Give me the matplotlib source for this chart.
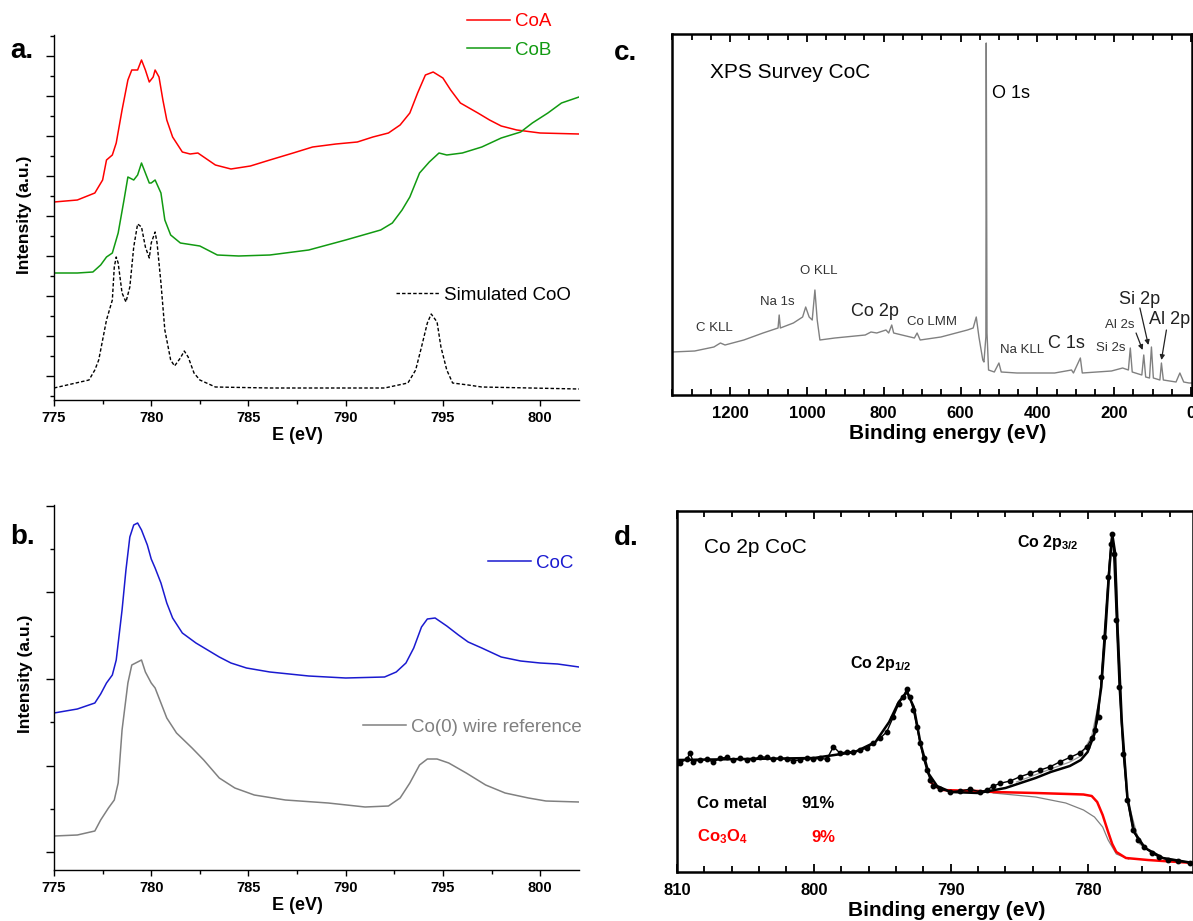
import numpy as np
import matplotlib
matplotlib.use('Agg')
import matplotlib.pyplot as plt
from matplotlib.ticker import FixedLocator, MultipleLocator, NullLocator

plt.rcParams['font.family'] = ['Liberation Sans', 'DejaVu Sans']
plt.rcParams['mathtext.fontset'] = 'custom'
plt.rcParams['mathtext.rm'] = 'Liberation Sans:bold'
plt.rcParams['mathtext.bf'] = 'Liberation Sans:bold'
plt.rcParams['mathtext.it'] = 'Liberation Sans:bold'
plt.rcParams['mathtext.default'] = 'bf'

# ---------------- Panel a data ----------------
coA_E = [775.0, 776.2, 777.1, 777.5, 777.7, 778.0, 778.2, 778.5, 778.8, 779.0, 779.3, 779.5, 779.7, 779.9,
         780.1, 780.2, 780.4, 780.6, 780.8, 781.1, 781.6, 782.0, 782.4, 782.7, 783.3, 784.1, 785.1, 786.1,
         787.3, 788.3, 789.5, 790.6, 791.4, 792.2, 792.8, 793.3, 793.7, 794.1, 794.5, 795.0, 795.4, 795.9,
         796.8, 797.4, 798.0, 798.8, 800.0, 802.0]
coA_I = [198, 200, 207, 220, 240, 245, 257, 290, 320, 330, 330, 340, 330, 318, 323, 330, 323, 300, 280, 263,
         248, 246, 247, 243, 235, 231, 234, 240, 247, 253, 256, 258, 263, 267, 275, 287, 307, 325, 328, 322,
         310, 297, 287, 280, 274, 270, 267, 266]

coB_E = [775.0, 776.2, 777.0, 777.4, 777.7, 778.0, 778.3, 778.6, 778.8, 779.1, 779.3, 779.5, 779.7, 779.9,
         780.0, 780.2, 780.5, 780.7, 781.0, 781.5, 782.5, 783.0, 783.4, 784.5, 786.1, 788.1, 790.0, 791.8,
         792.4, 792.9, 793.3, 793.8, 794.3, 794.8, 795.2, 796.0, 797.0, 798.0, 799.0, 799.6, 800.4, 801.1, 802.0]
coB_I = [127, 127, 128, 135, 143, 147, 167, 200, 223, 220, 225, 237, 227, 217, 217, 220, 207, 180, 165, 157,
         154, 149, 145, 144, 145, 150, 160, 170, 177, 190, 203, 227, 238, 247, 245, 247, 253, 262, 268, 277,
         287, 297, 303]

sim_E = [775.0, 776.8, 777.1, 777.3, 777.5, 777.7, 778.0, 778.1, 778.2, 778.3, 778.5, 778.7, 778.9, 779.1,
         779.3, 779.5, 779.7, 779.9, 780.0, 780.2, 780.3, 780.5, 780.7, 781.0, 781.2, 781.5, 781.7, 781.9,
         782.2, 782.5, 783.3, 786.1, 792.0, 793.2, 793.6, 793.9, 794.2, 794.4, 794.7, 794.9, 795.2, 795.5,
         796.3, 797.0, 802.0]
sim_I = [12, 20, 30, 40, 60, 80, 100, 133, 143, 137, 107, 98, 113, 153, 176, 173, 153, 142, 157, 168, 157,
         117, 70, 40, 34, 42, 49, 43, 27, 20, 13, 12, 12, 17, 30, 53, 77, 86, 78, 53, 30, 17, 15, 13, 11]

# ---------------- Panel b data ----------------
coC_E = [775.0, 776.2, 777.1, 777.4, 777.7, 778.0, 778.2, 778.5, 778.7, 778.9, 779.1, 779.3, 779.5, 779.8,
         780.0, 780.2, 780.5, 780.8, 781.1, 781.6, 782.3, 782.9, 783.5, 784.1, 784.9, 786.1, 788.1, 790.0,
         792.0, 792.6, 793.1, 793.5, 793.9, 794.2, 794.6, 795.2, 795.8, 796.3, 797.0, 798.0, 799.0, 800.0,
         800.9, 802.0]
coC_I = [157, 161, 167, 176, 187, 195, 210, 260, 300, 333, 345, 347, 340, 325, 311, 302, 287, 267, 252, 237,
         227, 220, 213, 207, 202, 198, 194, 192, 193, 198, 207, 222, 243, 251, 252, 244, 235, 228, 222, 213,
         209, 207, 206, 203]

co0_E = [775.0, 776.2, 777.1, 777.4, 777.8, 778.1, 778.3, 778.5, 778.8, 779.0, 779.3, 779.5, 779.7, 780.0,
         780.2, 780.5, 780.8, 781.3, 782.1, 782.7, 783.5, 784.3, 785.3, 786.9, 789.1, 791.0, 792.2, 792.8,
         793.3, 793.8, 794.2, 794.7, 795.3, 796.2, 797.2, 798.2, 799.4, 800.3, 802.0]
co0_I = [34, 35, 39, 50, 62, 70, 87, 140, 187, 205, 208, 210, 198, 187, 182, 167, 152, 137, 122, 110, 92, 82,
         75, 70, 67, 63, 64, 72, 87, 105, 111, 111, 107, 97, 85, 77, 72, 69, 68]

# ---------------- Panel c data (survey) ----------------
sv_E = [1351, 1292, 1242, 1225, 1213, 1164, 1114, 1075, 1072, 1069, 1035, 1011, 1003, 994, 986, 979, 973,
        966, 927, 848, 833, 818, 794, 787, 779, 774, 720, 713, 705, 651, 582, 567, 559, 552, 542, 539, 534,
        533, 531, 527, 512, 500, 494, 453, 355, 311, 306, 288, 283, 207, 178, 163, 158, 153, 128, 123, 118,
        108, 103, 98, 81, 77, 72, 39, 29, 19, 5, -3]
sv_I = [43, 44, 48, 52, 50, 55, 62, 67, 80, 67, 72, 78, 88, 78, 75, 105, 75, 55, 57, 60, 63, 62, 65, 62, 70,
        62, 57, 62, 55, 58, 65, 67, 78, 58, 35, 33, 58, 352, 62, 25, 23, 32, 23, 22, 22, 25, 22, 37, 22, 24,
        27, 25, 47, 23, 20, 40, 18, 17, 48, 17, 15, 32, 15, 13, 22, 13, 12, 12]

# ---------------- Panel d data (Co 2p) ----------------
d_E = [810.0, 809.78, 809.29, 809.05, 808.81, 808.32, 807.83, 807.35, 806.86, 806.37, 805.88, 805.39, 804.91,
       804.42, 803.93, 803.44, 802.96, 802.47, 801.98, 801.50, 801.01, 800.52, 800.04, 799.55, 799.06, 798.57,
       798.08, 797.60, 797.11, 796.62, 796.13, 795.65, 795.16, 794.67, 794.2, 793.8, 793.5, 793.2, 793.0,
       792.73, 792.48, 792.24, 791.99, 791.75, 791.50, 791.26, 790.77, 790.04, 789.31, 788.58, 787.85, 787.36,
       786.88, 786.39, 785.66, 784.93, 784.20, 783.46, 782.73, 782.00, 781.27, 780.54, 780.05, 779.69, 779.44,
       779.20, 779.0, 778.8, 778.5, 778.3, 778.2, 778.1, 777.9, 777.7, 777.4, 777.1, 776.7, 776.3, 775.9,
       775.3, 774.8, 774.1, 773.4, 772.5]
d_I = [109, 109.3, 112.7, 118.7, 110.3, 112, 112.7, 110, 113.7, 114.7, 112, 113.7, 112, 112.7, 115.3, 114.7,
       112.7, 113.7, 112.7, 111.3, 112, 113.7, 112.7, 113.7, 112.7, 125.3, 118.7, 120.3, 120.3, 122, 123.7,
       128.7, 133.7, 140.3, 155, 168, 175, 183, 175, 162, 145.3, 128.7, 113.7, 102, 92, 86, 82.7, 80.3, 81.3,
       82.7, 80.3, 82, 86, 88.7, 91, 95.3, 98.7, 102, 105.3, 110.3, 114.7, 119.3, 125.3, 133.7, 142, 155.3,
       195, 235, 295, 328, 338, 318, 252, 185, 118, 72, 42, 32, 25, 19, 15, 12, 11, 9]

fit_E = [810.0, 805.0, 800.0, 797.0, 795.5, 794.5, 793.8, 793.2, 792.7, 792.2, 791.6, 791.0, 790.0, 788.0,
         786.0, 783.8, 782.7, 781.3, 780.5, 780.0, 779.5, 779.0, 778.7, 778.4, 778.2, 778.0, 777.8, 777.5,
         777.1, 776.6, 775.8, 774.5, 772.3]
fit_I = [112, 113, 114, 120, 130, 150, 170, 180, 165, 128, 98, 86, 80, 79, 84, 94, 100, 106, 112, 120, 138,
         185, 240, 305, 338, 320, 240, 150, 75, 40, 24, 14, 9]

comp_E = [785.2, 782.7, 781.3, 780.5, 779.7, 779.1, 778.6, 778.2, 777.9, 777.5, 777.0, 776.2, 774.8, 772.3]
comp_I = [90, 103, 110, 116, 136, 175, 262, 335, 292, 148, 68, 28, 15, 9]

ox_E = [791.5, 790.7, 788.0, 786.9, 783.8, 781.4, 780.3, 779.7, 779.3, 778.9, 778.5, 778.2, 777.9, 777.2,
        775.6, 772.3]
ox_I = [90, 82, 81, 80, 79, 78, 77.5, 76, 70, 57, 40, 28, 20, 14, 12, 9]

bg_E = [786.9, 783.8, 781.6, 780.3, 779.5, 778.9, 778.5, 777.9, 777.0]
bg_I = [79, 75, 69, 62, 55, 45, 32, 18, 13]

# ---------------- Figure ----------------
W, H = 1193, 921
fig = plt.figure(figsize=(W / 100, H / 100), dpi=100)


def box(l, t, r, b):
    return [l / W, 1 - b / H, (r - l) / W, (b - t) / H]


RED = '#ff0000'
GREEN = '#119a11'
BLUE = '#1a1ad0'
GREY = '#808080'
LEGFS = 13.5

# ---- panel a ----
axa = fig.add_axes(box(54, 35, 579, 400))
la, = axa.plot(coA_E, coA_I, color=RED, lw=1.1, label='CoA')
lb, = axa.plot(coB_E, coB_I, color=GREEN, lw=1.1, label='CoB')
ls, = axa.plot(sim_E, sim_I, color='black', lw=1.0, ls=(0, (2.5, 1.5)), label='Simulated CoO')

# ---- panel b ----
axb = fig.add_axes(box(54, 505, 579, 870))
lc, = axb.plot(coC_E, coC_I, color=BLUE, lw=1.1, label='CoC')
l0, = axb.plot(co0_E, co0_I, color=GREY, lw=1.1, label='Co(0) wire reference')

for ax, majors, minors in [
    (axa, np.arange(24, 350, 40), np.arange(4, 370, 40)),
    (axb, np.arange(17.7, 370, 86.67), np.arange(61, 370, 86.67)),
]:
    ax.set_xlim(775, 802)
    ax.set_ylim(0, 365)
    ax.spines['top'].set_visible(False)
    ax.spines['right'].set_visible(False)
    ax.spines['left'].set_linewidth(1.0)
    ax.spines['bottom'].set_linewidth(1.0)
    ax.xaxis.set_major_locator(MultipleLocator(5))
    ax.xaxis.set_minor_locator(MultipleLocator(2.5))
    ax.yaxis.set_major_locator(FixedLocator(majors))
    ax.yaxis.set_minor_locator(FixedLocator(minors))
    ax.tick_params(axis='x', which='major', direction='out', length=4, width=1, pad=4, labelsize=10.5)
    ax.tick_params(axis='x', which='minor', direction='out', length=3, width=1)
    ax.tick_params(axis='y', which='major', direction='out', length=6, width=1, labelleft=False)
    ax.tick_params(axis='y', which='minor', direction='out', length=3, width=1)
    for t in ax.get_xticklabels():
        t.set_fontweight('bold')
    ax.set_xlabel('E (eV)', fontsize=13, fontweight='bold')
    ax.xaxis.set_label_coords(0.463, -0.075)
    ax.set_ylabel('Intensity (a.u.)', fontsize=12.5, fontweight='bold')

axa.yaxis.set_label_coords(-0.042, 0.507)
axb.yaxis.set_label_coords(-0.040, 0.537)

leg_kw = dict(bbox_transform=fig.transFigure, frameon=False, fontsize=LEGFS, handlelength=2.3,
              handletextpad=0.28, borderpad=0, borderaxespad=0)
leg1 = axa.legend(handles=[la, lb], loc='upper left', bbox_to_anchor=(467 / W, 1 - 13 / H),
                  labelspacing=0.62, labelcolor='linecolor', **leg_kw)
axa.add_artist(leg1)
axa.legend(handles=[ls], loc='center left', bbox_to_anchor=(396 / W, 1 - 295 / H), **leg_kw)

leg2 = axb.legend(handles=[lc], loc='center left', bbox_to_anchor=(488 / W, 1 - 563 / H),
                  labelcolor='linecolor', **leg_kw)
axb.add_artist(leg2)
axb.legend(handles=[l0], loc='center left', bbox_to_anchor=(363 / W, 1 - 727 / H),
           labelcolor='linecolor', **leg_kw)

# ---- panel c ----
axc = fig.add_axes(box(672, 34, 1192, 395))
axc.plot(sv_E, sv_I, color=GREY, lw=1.0)
axc.set_xlim(1351, -2.6)
axc.set_ylim(0, 361)
axc.xaxis.set_major_locator(MultipleLocator(200))
axc.xaxis.set_minor_locator(MultipleLocator(50))
axc.yaxis.set_major_locator(NullLocator())
axc.tick_params(axis='x', which='major', direction='in', top=True, length=6, width=1.3, pad=8, labelsize=12)
axc.tick_params(axis='x', which='minor', direction='in', top=True, length=4, width=1.3)
for t in axc.get_xticklabels():
    t.set_fontweight('bold')
for s in axc.spines.values():
    s.set_linewidth(1.8)
axc.set_xlabel('Binding energy (eV)', fontsize=15, fontweight='bold')
axc.xaxis.set_label_coords(0.53, -0.080)

axc.text(1251, 322, 'XPS Survey CoC', fontsize=15, ha='left', va='center')
axc.text(517, 302, 'O 1s', fontsize=13, ha='left', va='center')
small = dict(fontsize=9.5, ha='left', va='center', color='#333333')
big = dict(fontsize=13, ha='left', va='center', color='#222222')
axc.text(1018, 124, 'O KLL', **small)
axc.text(1122, 93, 'Na 1s', **small)
axc.text(1288, 67, 'C KLL', **small)
axc.text(884, 83, 'Co 2p', **big)
axc.text(738, 73, 'Co LMM', **small)
axc.text(497, 45, 'Na KLL', **small)
axc.text(372, 52, 'C 1s', **big)
axc.text(247, 47, 'Si 2s', **small)
axc.text(224, 70, 'Al 2s', **small)
axc.text(187, 96, 'Si 2p', **big)
axc.text(109, 75, 'Al 2p', **big)
arrow = dict(arrowstyle='-|>', color='#222222', lw=0.9, mutation_scale=7, shrinkA=0, shrinkB=0)
axc.annotate('', xy=(126, 45), xytext=(143, 62), arrowprops=arrow)
axc.annotate('', xy=(111, 50), xytext=(133, 87), arrowprops=arrow)
axc.annotate('', xy=(77, 35), xytext=(64, 65), arrowprops=arrow)

# ---- panel d ----
axd = fig.add_axes(box(677, 511, 1193, 872))
axd.plot(bg_E, bg_I, color=GREY, lw=0.9)
axd.plot(comp_E, comp_I, color='#9a9a9a', lw=0.9)
axd.plot(ox_E, ox_I, color=RED, lw=1.8)
axd.plot(d_E, d_I, color='black', lw=1.0, marker='o', ms=3.2, ls='-')
axd.plot(fit_E, fit_I, color='black', lw=1.8)
axd.set_xlim(810, 772.3)
axd.set_ylim(0, 361)
axd.xaxis.set_major_locator(MultipleLocator(10))
axd.xaxis.set_minor_locator(MultipleLocator(2))
axd.yaxis.set_major_locator(NullLocator())
axd.tick_params(axis='x', which='major', direction='in', top=True, length=6, width=1.3, pad=8, labelsize=12)
axd.tick_params(axis='x', which='minor', direction='in', top=True, length=4, width=1.3)
for t in axd.get_xticklabels():
    t.set_fontweight('bold')
for s in axd.spines.values():
    s.set_linewidth(1.8)
axd.set_xlabel('Binding energy (eV)', fontsize=15, fontweight='bold')
axd.xaxis.set_label_coords(0.523, -0.080)

axd.text(808.03, 325, 'Co 2p CoC', fontsize=15, ha='left', va='center')
axd.text(785.15, 330, r'Co 2p$_{3/2}$', fontsize=11.5, fontweight='bold', ha='left', va='center')
axd.text(797.35, 209, r'Co 2p$_{1/2}$', fontsize=11.5, fontweight='bold', ha='left', va='center')
axd.text(808.54, 69, 'Co metal', fontsize=12, fontweight='bold', ha='left', va='center')
axd.text(800.94, 69, '91%', fontsize=12, fontweight='bold', ha='left', va='center')
axd.text(808.54, 35, r'Co$_3$O$_4$', fontsize=12, fontweight='bold', ha='left', va='center', color=RED)
axd.text(800.2, 35, '9%', fontsize=12, fontweight='bold', ha='left', va='center', color=RED)

# ---- panel letters ----
for x, y, s in [(10, 51, 'a.'), (10, 537, 'b.'), (614, 53, 'c.'), (614, 538, 'd.')]:
    fig.text(x / W, 1 - y / H, s, fontsize=20, fontweight='bold', ha='left', va='center')

fig.savefig('out.png', dpi=100)
